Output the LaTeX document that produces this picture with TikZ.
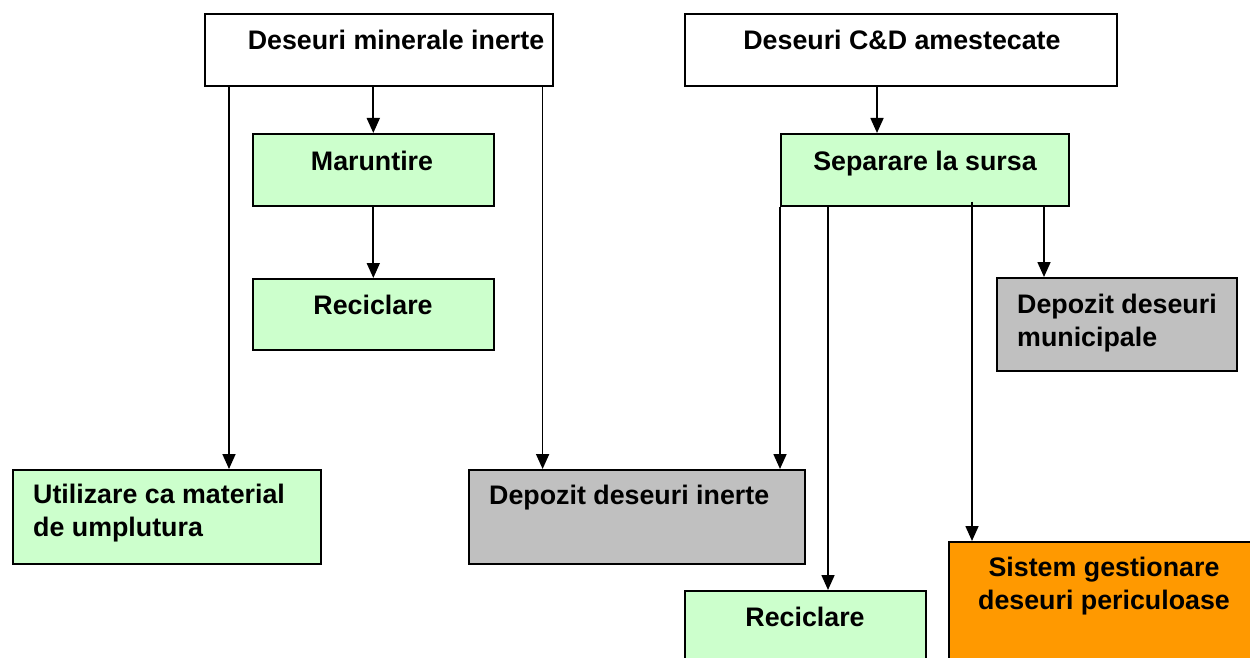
\documentclass[tikz,border=0pt]{standalone}
\usepackage{fontspec}
\setmainfont{Liberation Sans}
\usetikzlibrary{arrows.meta}
\definecolor{lgreen}{HTML}{CCFFCC}
\definecolor{lgrey}{HTML}{C0C0C0}
\definecolor{orng}{HTML}{FF9900}
\begin{document}
\begin{tikzpicture}[x=1pt,y=-1pt,
  box/.style={draw=black,line width=1.6pt,rectangle,inner sep=0pt,anchor=north west},
  txt/.style={inner sep=0pt,font=\fontsize{26.8}{33}\selectfont\bfseries},
  arr/.style={line width=1.7pt,-{Triangle[length=15pt,width=13pt]}},
  ln/.style={line width=1.7pt}]
\useasboundingbox (0,0) rectangle (1250,658);
\clip (0,0) rectangle (1250,658);
% boxes
\node[box,fill=white,minimum width=348pt,minimum height=72pt] (A) at (204,13) {};
\node[box,fill=white,minimum width=432pt,minimum height=72pt] (B) at (684,13) {};
\node[box,fill=lgreen,minimum width=241pt,minimum height=72pt] (M) at (252,133) {};
\node[box,fill=lgreen,minimum width=241pt,minimum height=71pt] (R1) at (252,278) {};
\node[box,fill=lgreen,minimum width=288pt,minimum height=72pt] (S) at (780,133) {};
\node[box,fill=lgrey,minimum width=240pt,minimum height=93pt] (DM) at (996,277) {};
\node[box,fill=lgreen,minimum width=308pt,minimum height=94pt] (U) at (12,469) {};
\node[box,fill=lgrey,minimum width=336pt,minimum height=94pt] (DI) at (468,469) {};
\node[box,fill=lgreen,minimum width=241pt,minimum height=100pt] (R2) at (684,590) {};
\node[box,fill=orng,minimum width=320pt,minimum height=150pt] (Sy) at (948,541) {};
% texts
\node[txt,anchor=base] (tA) at (396,50) {Deseuri minerale inerte};
\node[txt,anchor=base] (tB) at (902,50) {Deseuri C\&D amestecate};
\node[txt,anchor=base] (tM) at (372,170) {Maruntire};
\node[txt,anchor=base] (tR1) at (373,314) {Reciclare};
\node[txt,anchor=base] (tS) at (925,170) {Separare la sursa};
\node[txt,anchor=base west] (tDM1) at (1017,313) {Depozit deseuri};
\node[txt,anchor=base west] (tDM2) at (1017,346) {municipale};
\node[txt,anchor=base west] (tU1) at (33,503) {Utilizare ca material};
\node[txt,anchor=base west] (tU2) at (33,536) {de umplutura};
\node[txt,anchor=base west] (tDI) at (489,504) {Depozit deseuri inerte};
\node[txt,anchor=base] (tR2) at (805,626) {Reciclare};
\node[txt,anchor=base] (tSy1) at (1104,576) {Sistem gestionare};
\node[txt,anchor=base] (tSy2) at (1104,609) {deseuri periculoase};
% connectors
\draw[arr] (M.north |- A.south) -- (M.north);
\draw[arr] (M.south) -- (R1.north);
\draw[arr] ([xshift=25pt]A.south west) -- ([xshift=25pt]A.south west |- U.north);
\draw[arr] ([xshift=-11pt]A.south east) -- ([xshift=-11pt]A.south east |- DI.north);
\draw[arr] ([xshift=193pt]B.south west) -- ([xshift=193pt]B.south west |- S.north);
\draw[arr] (S.south west) -- (S.south west |- DI.north);
\draw[arr] ([xshift=48pt]S.south west) -- ([xshift=48pt]S.south west |- R2.north);
\draw[arr] ([xshift=192pt,yshift=5pt]S.south west) -- ([xshift=192pt]S.south west |- Sy.north);
\draw[arr] ([xshift=264pt]S.south west) -- ([xshift=264pt]S.south west |- DM.north);
\end{tikzpicture}
\end{document}
